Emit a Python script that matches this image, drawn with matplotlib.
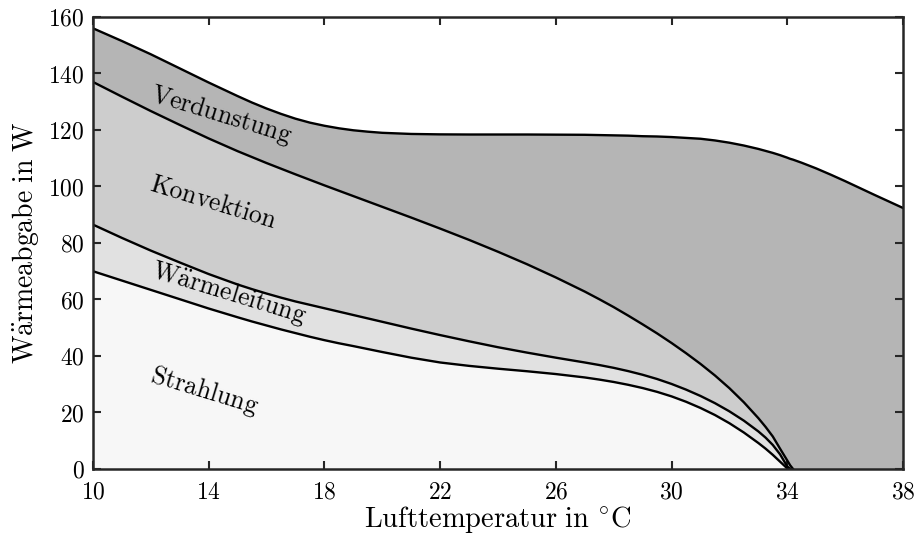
import numpy as np
import matplotlib
matplotlib.use("Agg")
import matplotlib.pyplot as plt

plt.rcParams["font.family"] = "serif"
plt.rcParams["font.serif"] = ["cmr10"]
plt.rcParams["mathtext.fontset"] = "cm"
plt.rcParams["axes.formatter.use_mathtext"] = True

# Lufttemperatur in °C
temp = [10, 11, 12, 13, 14, 15, 15.5, 16, 16.5, 17, 17.5, 18, 18.5, 19, 19.5, 20,
        21, 22, 23, 24, 25, 26, 27, 27.5, 28, 28.5, 29, 29.5, 30, 30.5, 31, 31.5,
        32, 32.5, 33, 33.25, 33.5, 33.75, 34, 34.1, 34.2, 34.5, 35, 35.5, 36, 37, 38]

# obere Kante jedes Bandes (kumulierte Wärmeabgabe in W)
strahlung = [70.0, 66.7, 63.4, 60.1, 56.8, 53.7, 52.2, 50.8, 49.4, 48.1, 46.8, 45.6,
             44.5, 43.5, 42.45, 41.4, 39.4, 37.7, 36.5, 35.5, 34.6, 33.6, 32.4, 31.65,
             30.8, 29.8, 28.65, 27.3, 25.7, 23.8, 21.6, 19.1, 16.2, 12.9, 9.2, 7.2,
             5.0, 2.6, 0.2, 0.0, 0.0, 0.0, 0.0, 0.0, 0.0, 0.0, 0.0]
waermeleitung = [86.5, 81.8, 77.3, 73.1, 69.0, 65.3, 63.65, 62.1, 60.65, 59.3, 58.1,
                 56.9, 55.7, 54.5, 53.3, 52.1, 49.7, 47.4, 45.2, 43.1, 41.2, 39.4, 37.7,
                 36.8, 35.8, 34.65, 33.35, 31.85, 30.1, 28.1, 25.85, 23.3, 20.4, 17.1,
                 13.3, 11.1, 8.5, 5.2, 0.9, 0.0, 0.0, 0.0, 0.0, 0.0, 0.0, 0.0, 0.0]
konvektion = [137.0, 131.8, 126.7, 121.8, 117.0, 112.5, 110.4, 108.3, 106.3, 104.3,
              102.35, 100.4, 98.5, 96.6, 94.7, 92.8, 89.0, 85.1, 81.1, 76.9, 72.5,
              67.8, 62.8, 60.1, 57.3, 54.3, 51.2, 48.0, 44.6, 41.0, 37.2, 33.1, 28.6,
              23.6, 18.0, 14.9, 11.5, 7.2, 3.0, 1.3, 0.0, 0.0, 0.0, 0.0, 0.0, 0.0, 0.0]
verdunstung = [156.0, 151.5, 146.8, 141.8, 136.8, 132.0, 129.7, 127.6, 125.7, 124.0,
               122.6, 121.5, 120.6, 119.9, 119.4, 119.0, 118.6, 118.45, 118.4, 118.4,
               118.4, 118.35, 118.3, 118.2, 118.1, 118.0, 117.8, 117.7, 117.5, 117.2,
               116.9, 116.3, 115.5, 114.5, 113.3, 112.6, 111.9, 111.1, 110.2, 109.8,
               109.5, 108.4, 106.4, 104.2, 101.9, 97.1, 92.4]

bands = [strahlung, waermeleitung, konvektion, verdunstung]
fills = ["#f7f7f7", "#e1e1e1", "#cdcdcd", "#b5b5b5"]

fig = plt.figure(figsize=(9.17, 5.38), dpi=100)
ax = fig.add_axes([0.1014, 0.1283, 0.8833, 0.8401])

x = np.array(temp)
lower = np.zeros(len(x))
for upper, color in zip(bands, fills):
    upper = np.array(upper)
    ax.fill_between(x, lower, upper, facecolor=color, edgecolor="none", zorder=1)
    # Linie nur bis zum Nulldurchgang zeichnen
    last = np.nonzero(upper > 0)[0][-1]
    stop = min(last + 2, len(x))
    ax.plot(x[:stop], upper[:stop], color="black", lw=1.7, zorder=2,
            solid_joinstyle="round")
    lower = upper

# Beschriftung der Bänder
label_style = dict(fontsize=18.5, rotation=-17, ha="center", va="center",
                   rotation_mode="anchor", zorder=3)
ax.text(14.45, 125.3, r"$\mathrm{Verdunstung}$", **label_style)
ax.text(14.15, 94.2, r"$\mathrm{Konvektion}$", **label_style)
ax.text(14.7, 62.3, r"$\mathrm{W\ddot{a}rmeleitung}$", **label_style)
ax.text(13.85, 27.6, r"$\mathrm{Strahlung}$", **label_style)

ax.set_xlim(10, 38)
ax.set_ylim(0, 160)
ax.set_xticks(np.arange(10, 39, 4))
ax.set_yticks(np.arange(0, 161, 20))
ax.tick_params(direction="in", length=6, width=1.5, top=True, right=True,
               labelsize=17, color="#262626")
ax.tick_params(axis="x", pad=9)
ax.tick_params(axis="y", pad=6)
for side in ax.spines.values():
    side.set_linewidth(1.8)
    side.set_color("#262626")
    side.set_zorder(4)

ax.set_xlabel(r"$\mathrm{Lufttemperatur\ in\ ^{\circ}C}$", fontsize=20.5, labelpad=0)
ax.set_ylabel(r"$\mathrm{W\ddot{a}rmeabgabe\ in\ W}$", fontsize=20, labelpad=5)

fig.savefig("out.png", dpi=100)
